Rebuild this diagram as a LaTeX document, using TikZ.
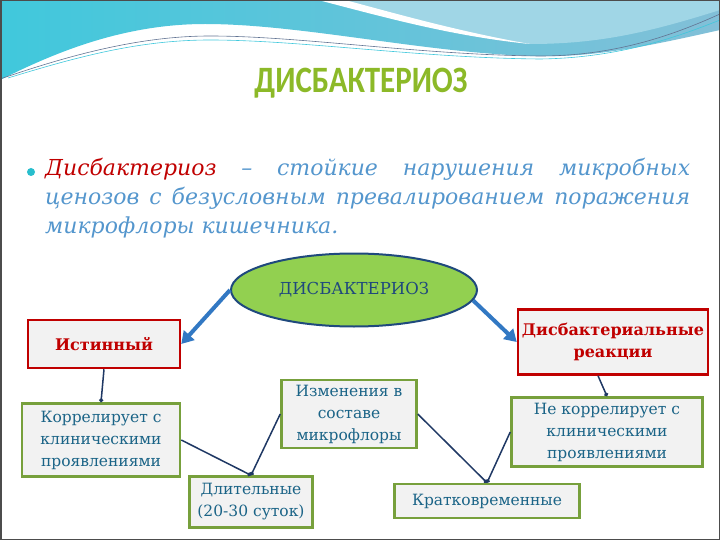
\documentclass[tikz,border=0pt]{standalone}
\usepackage{fontspec}
\setmainfont{DejaVu Serif}
\newfontfamily\headfont{Carlito}
\usetikzlibrary{shapes.geometric,arrows.meta}

\definecolor{wavecyan}{RGB}{64,200,220}
\definecolor{waveblue}{RGB}{130,192,216}
\definecolor{wavelight}{RGB}{160,214,230}
\definecolor{titlegreen}{RGB}{140,185,40}
\definecolor{defred}{RGB}{192,0,0}
\definecolor{defblue}{RGB}{84,150,205}
\definecolor{bulletcyan}{RGB}{40,190,205}
\definecolor{ellgreen}{RGB}{146,208,80}
\definecolor{ellblue}{RGB}{31,73,125}
\definecolor{boxred}{RGB}{192,0,0}
\definecolor{boxgreen}{RGB}{119,160,60}
\definecolor{boxfill}{RGB}{242,242,242}
\definecolor{boxtext}{RGB}{27,100,135}
\definecolor{linknavy}{RGB}{31,56,100}
\definecolor{arrowblue}{RGB}{50,120,195}

\tikzset{
  redbox/.style={draw=boxred, line width=2.5pt, fill=boxfill, text=boxred,
    font=\bfseries\fontsize{16}{22}\selectfont, align=center, inner sep=2pt},
  greenbox/.style={draw=boxgreen, line width=2.5pt, fill=boxfill, text=boxtext,
    font=\fontsize{15.5}{22}\selectfont, align=center, inner sep=2pt},
  bigarrow/.style={draw=arrowblue, line width=4pt, -{Triangle[length=12pt,width=14pt]}},
  link/.style={draw=linknavy, line width=1.5pt, -{Circle[length=4pt]}},
}

\begin{document}
\begin{tikzpicture}[x=1pt,y=1pt,yscale=-1]
\useasboundingbox (0,0) rectangle (720,540);

% header wave
\shade[left color=wavecyan, right color=waveblue] (0,0) -- (720,0) -- (720,30) .. controls (640,48) and (590,58) .. (530,56) .. controls (420,52) and (300,24) .. (205,24) .. controls (120,24) and (50,55) .. (0,80) -- cycle;
\fill[wavelight] (340,0) -- (720,0) -- (720,10) .. controls (650,32) and (600,44) .. (530,44) .. controls (460,36) and (400,14) .. (340,0) -- cycle;
\fill[white] (318,0) .. controls (380,16) and (450,36) .. (530,44) .. controls (460,32) and (390,12) .. (345,0) -- cycle;
\draw[linknavy!70, line width=0.6pt] (0,79) .. controls (70,55) and (140,36) .. (210,36) .. controls (300,36) and (420,55) .. (540,56) .. controls (620,56) and (680,32) .. (720,14);
\draw[wavecyan, line width=0.6pt] (8,78) .. controls (80,56) and (140,40) .. (210,40) .. controls (300,40) and (420,58) .. (540,59) .. controls (620,58) and (680,36) .. (720,20);

% title and definition
\node (title) at (361,83) {\headfont\bfseries\fontsize{31}{31}\selectfont\color{titlegreen}\scalebox{1}[1.2]{ДИСБАКТЕРИОЗ}};
\node (dot) [circle, fill=bulletcyan, minimum size=8pt, inner sep=0pt] at (31,172) {};
\node (defn) [anchor=north west, text width=645pt, align=justify, inner sep=0pt,
  font=\itshape\fontsize{22}{29}\selectfont, text=defblue] at (45,158)
  {{\color{defred}Дисбактериоз} – стойкие нарушения микробных\linebreak ценозов с безусловным превалированием поражения\linebreak микрофлоры кишечника.};

% scheme
\node (ell) [ellipse, draw=ellblue, line width=2pt, fill=ellgreen, minimum width=246pt,
  minimum height=73pt, text=ellblue, font=\fontsize{16.5}{18}\selectfont] at (354,290) {ДИСБАКТЕРИОЗ};
\node (ist) [redbox, minimum width=152pt, minimum height=48pt] at (104,344) {Истинный};
\node (dysr) [redbox, minimum width=190pt, minimum height=65pt] at (613,342) {Дисбактериальные\\реакции};
\node (izm) [greenbox, minimum width=135pt, minimum height=68pt] at (349,414) {Изменения в\\составе\\микрофлоры};
\node (korr) [greenbox, minimum width=158pt, minimum height=73pt] at (101,440) {Коррелирует с\\клиническими\\проявлениями};
\node (dlit) [greenbox, minimum width=123pt, minimum height=51pt] at (251,502) {Длительные\\(20-30 суток)};
\node (nekorr) [greenbox, minimum width=191pt, minimum height=69pt] at (607,432) {Не коррелирует с\\клиническими\\проявлениями};
\node (krat) [greenbox, minimum width=185pt, minimum height=34pt] at (487,501) {Кратковременные};

\draw[bigarrow] (ell.west) -- (ist.east);
\draw[bigarrow] (ell.-5) -- (dysr.west);

\draw[link] (ist.south) -- (korr.north);
\draw[link] ([xshift=-15pt]dysr.south) -- (nekorr.north);
\draw[link] (korr.east) -- (dlit.north);
\draw[link] (izm.west) -- (dlit.north);
\draw[link] (izm.east) -- (krat.north);
\draw[link] (nekorr.west) -- (krat.north);

% slide frame
\draw[gray!60!black, line width=1.5pt] (0.75,0.75) rectangle (719.25,539.25);
\end{tikzpicture}
\end{document}
